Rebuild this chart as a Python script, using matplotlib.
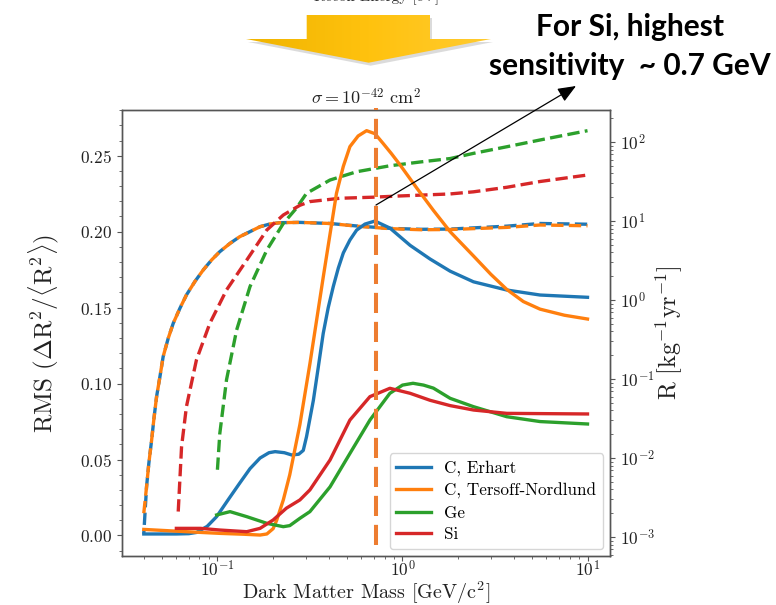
import numpy as np
import matplotlib
matplotlib.use("Agg")
import matplotlib.pyplot as plt
from matplotlib.patches import Polygon
from matplotlib.colors import LinearSegmentedColormap
from matplotlib.ticker import AutoMinorLocator

plt.rcParams['font.family'] = 'serif'
plt.rcParams['font.serif'] = ['cmr10']
plt.rcParams['mathtext.fontset'] = 'cm'
plt.rcParams['axes.formatter.use_mathtext'] = True

# RMS of the recoil-rate change, left axis (solid lines)
m_erhart = [0.04, 0.05, 0.06, 0.07, 0.077, 0.088, 0.099, 0.115, 0.132, 0.15, 0.17, 0.19,
            0.205, 0.23, 0.252, 0.275, 0.291, 0.303, 0.33, 0.351, 0.373, 0.397, 0.423, 0.45,
            0.479, 0.52, 0.565, 0.627, 0.71, 0.855, 1.1, 1.41, 1.81, 2.42, 3.66, 5.54, 10]
rms_erhart = [0.001, 0.001, 0.001, 0.0012, 0.002, 0.006, 0.0124, 0.024, 0.0345, 0.044, 0.051, 0.0545,
              0.0552, 0.0545, 0.053, 0.0535, 0.056, 0.065, 0.089, 0.111, 0.133, 0.150, 0.164, 0.176,
              0.186, 0.1945, 0.201, 0.205, 0.207, 0.2024, 0.191, 0.182, 0.174, 0.167, 0.1616, 0.1583, 0.1568]

m_tersoff = [0.04, 0.068, 0.103, 0.14, 0.17, 0.185, 0.2, 0.209, 0.227, 0.246, 0.279, 0.316,
             0.373, 0.44, 0.479, 0.52, 0.576, 0.64, 0.71, 0.787, 0.87, 0.97, 1.19, 1.47,
             1.81, 2.42, 3.0, 3.66, 4.5, 5.54, 7.5, 10]
rms_tersoff = [0.004, 0.0025, 0.0014, 0.0008, 0.0003, 0.001, 0.0045, 0.01, 0.0234, 0.040, 0.073, 0.113,
               0.170, 0.2253, 0.243, 0.256, 0.263, 0.2665, 0.2645, 0.258, 0.2515, 0.244, 0.229, 0.214,
               0.200, 0.184, 0.172, 0.162, 0.154, 0.149, 0.145, 0.1425]

m_ge = [0.099, 0.117, 0.144, 0.185, 0.227, 0.246, 0.279, 0.316, 0.406, 0.52, 0.667, 0.855,
        1.0, 1.14, 1.3, 1.47, 1.81, 2.42, 3.66, 5.54, 10]
rms_ge = [0.0135, 0.0157, 0.0124, 0.008, 0.0058, 0.0065, 0.0113, 0.0157, 0.032, 0.054, 0.076, 0.0936,
          0.099, 0.1002, 0.099, 0.097, 0.0903, 0.0848, 0.0782, 0.075, 0.0734]

m_si = [0.06, 0.081, 0.103, 0.144, 0.17, 0.2, 0.236, 0.279, 0.316, 0.406, 0.52, 0.667,
        0.855, 1.1, 1.41, 1.81, 2.42, 3.66, 10]
rms_si = [0.0047, 0.0047, 0.0036, 0.0025, 0.0047, 0.0102, 0.018, 0.0234, 0.030, 0.0497, 0.076, 0.0914,
          0.0969, 0.0936, 0.089, 0.0855, 0.0826, 0.0804, 0.080]

# total rate R, right axis (dashed lines)
mR_c = [0.04, 0.0414, 0.0426, 0.0441, 0.0454, 0.0469, 0.0489, 0.0509, 0.0542, 0.0577, 0.0627,
        0.068, 0.0755, 0.0838, 0.093, 0.103, 0.117, 0.132, 0.15, 0.17, 0.192, 0.218,
        0.279, 0.406, 0.565, 0.855, 1.26, 1.81, 3.66, 5.54, 10]
R_erhart = [1.1e-3, 4.33e-3, 8.6e-3, 0.0169, 0.0318, 0.0597, 0.107, 0.192, 0.327, 0.507, 0.785,
            1.157, 1.71, 2.40, 3.21, 4.09, 5.21, 6.33, 7.33, 8.47, 9.16, 9.52,
            9.6, 9.3, 8.65, 8.07, 7.85, 7.9, 8.6, 9.3, 9.1]
R_tersoff = [2.0e-3, 4.33e-3, 8.6e-3, 0.0169, 0.0318, 0.0597, 0.107, 0.192, 0.327, 0.507, 0.785,
             1.157, 1.71, 2.40, 3.21, 4.09, 5.21, 6.33, 7.33, 8.47, 9.16, 9.52,
             9.6, 9.3, 8.6, 8.0, 7.75, 7.8, 8.3, 8.9, 8.7]

mR_ge = [0.1, 0.103, 0.112, 0.127, 0.15, 0.185, 0.227, 0.267, 0.303, 0.406, 0.565, 0.855,
         1.26, 1.81, 2.42, 3.66, 5.54, 10]
R_ge = [7.1e-3, 0.0204, 0.098, 0.417, 1.48, 4.3, 9.3, 14.5, 22.4, 33, 42, 50,
        56, 61.7, 71.8, 87, 106, 139]

mR_si = [0.0614, 0.064, 0.068, 0.077, 0.091, 0.112, 0.144, 0.185, 0.227, 0.279, 0.316, 0.46,
         0.69, 0.95, 1.81, 2.42, 3.66, 5.54, 10]
R_si = [2.1e-3, 0.0139, 0.0447, 0.174, 0.507, 1.34, 3.2, 7.7, 11.9, 15.8, 17.6, 19.4,
        20.0, 20.7, 22.0, 23.4, 26.7, 31.6, 38.2]

labels = ['C, Erhart', 'C, Tersoff-Nordlund', 'Ge', 'Si']
colors = ['tab:blue', 'tab:orange', 'tab:green', 'tab:red']
m_best = 0.715

W, H = 776, 605
fig = plt.figure(figsize=(W / 100, H / 100), dpi=100)
ax = fig.add_axes([122 / W, 1 - 556 / H, (610 - 122) / W, (556 - 110) / H])
ax2 = ax.twinx()

lw = 2.4
solid = [(m_erhart, rms_erhart), (m_tersoff, rms_tersoff), (m_ge, rms_ge), (m_si, rms_si)]
for (m, r), lab, c in zip(solid, labels, colors):
    ax.plot(m, r, color=c, lw=lw, label=lab)

ax2.plot(mR_c, R_erhart, color=colors[0], lw=lw, ls=(2.65, (3.7, 1.6)))
ax2.plot(mR_c, R_tersoff, color=colors[1], lw=lw, ls='--')
ax2.plot(mR_ge, R_ge, color=colors[2], lw=lw, ls='--')
ax2.plot(mR_si, R_si, color=colors[3], lw=lw, ls='--')

ax.set_xscale('log')
ax.set_xlim(0.0305, 13.23)
ax.set_ylim(-0.0135, 0.2801)
ax.yaxis.set_minor_locator(AutoMinorLocator(5))
ax2.set_yscale('log')
ax2.set_ylim(5.75e-4, 254)

ax.set_zorder(ax2.get_zorder() + 1)
ax.patch.set_visible(False)

for a in (ax, ax2):
    for s in a.spines.values():
        s.set_color('#555555')
        s.set_linewidth(1.0)
    a.tick_params(which='both', colors='#555555', labelcolor='#222222', labelsize=12.5)
ax.tick_params(axis='x', which='major', pad=-1.5)

ax.set_xlabel(r'Dark Matter Mass [GeV/c$^2$]', fontsize=14.5, color='#222222', labelpad=0.5)
ax.set_ylabel(r'RMS $(\Delta\mathrm{R}^2/\langle\mathrm{R}^2\rangle)$', fontsize=18,
              color='#222222', labelpad=14)
ax2.set_ylabel(r'R [kg$^{-1}$yr$^{-1}$]', fontsize=17.5, color='#222222', labelpad=-1)
ax.set_title(r'$\sigma = 10^{-42}\ \mathrm{cm}^2$', fontsize=13, pad=4, color='#222222')

ax.legend(loc='lower right', fontsize=12.3, labelspacing=0.38, borderaxespad=0.4)

ax.axvline(m_best, ymin=0.025, ymax=1.005, color='#ED7D31', lw=2.9,
           dashes=(5, 2.2), clip_on=False, zorder=10)

# slide decorations on top, in pixel coordinates
ov = fig.add_axes([0, 0, 1, 1], zorder=20)
ov.set_xlim(0, W)
ov.set_ylim(H, 0)
ov.axis('off')
ov.patch.set_visible(False)

arrow_pts = [(306.7, 15), (430, 15), (430, 39), (491, 39), (368.7, 62.7), (246, 39), (306.7, 39)]
shadow = Polygon([(x + 2, y + 3) for x, y in arrow_pts], closed=True, fc='#999999', ec='none', alpha=0.35)
ov.add_patch(shadow)
yel = Polygon(arrow_pts, closed=True, fc='none', ec='none')
ov.add_patch(yel)
grad = np.linspace(0, 1, 256).reshape(1, -1)
ycmap = LinearSegmentedColormap.from_list('yel', ['#F0B400', '#FFC20E', '#FFCB30'])
im = ov.imshow(grad, cmap=ycmap, extent=(246, 491, 62.7, 15), aspect='auto', zorder=2)
im.set_clip_path(yel)

ov.text(377, 1.5, 'Recoil Energy [eV]', ha='center', va='baseline', fontsize=11, color='#333333')

ov.text(630, 27, 'For Si, highest', ha='center', va='center', fontsize=21.5,
        fontweight='bold', family=['Lato', 'DejaVu Sans'], color='black')
ov.text(630, 66, 'sensitivity  ~ 0.7 GeV', ha='center', va='center', fontsize=21.5,
        fontweight='bold', family=['Lato', 'DejaVu Sans'], color='black')

ov.annotate('', xy=(576, 86), xytext=(376, 205),
            arrowprops=dict(arrowstyle='-|>,head_length=1.1,head_width=0.45', color='black', lw=0.9,
                            shrinkA=0, shrinkB=0))

fig.savefig('out.png', dpi=100)
